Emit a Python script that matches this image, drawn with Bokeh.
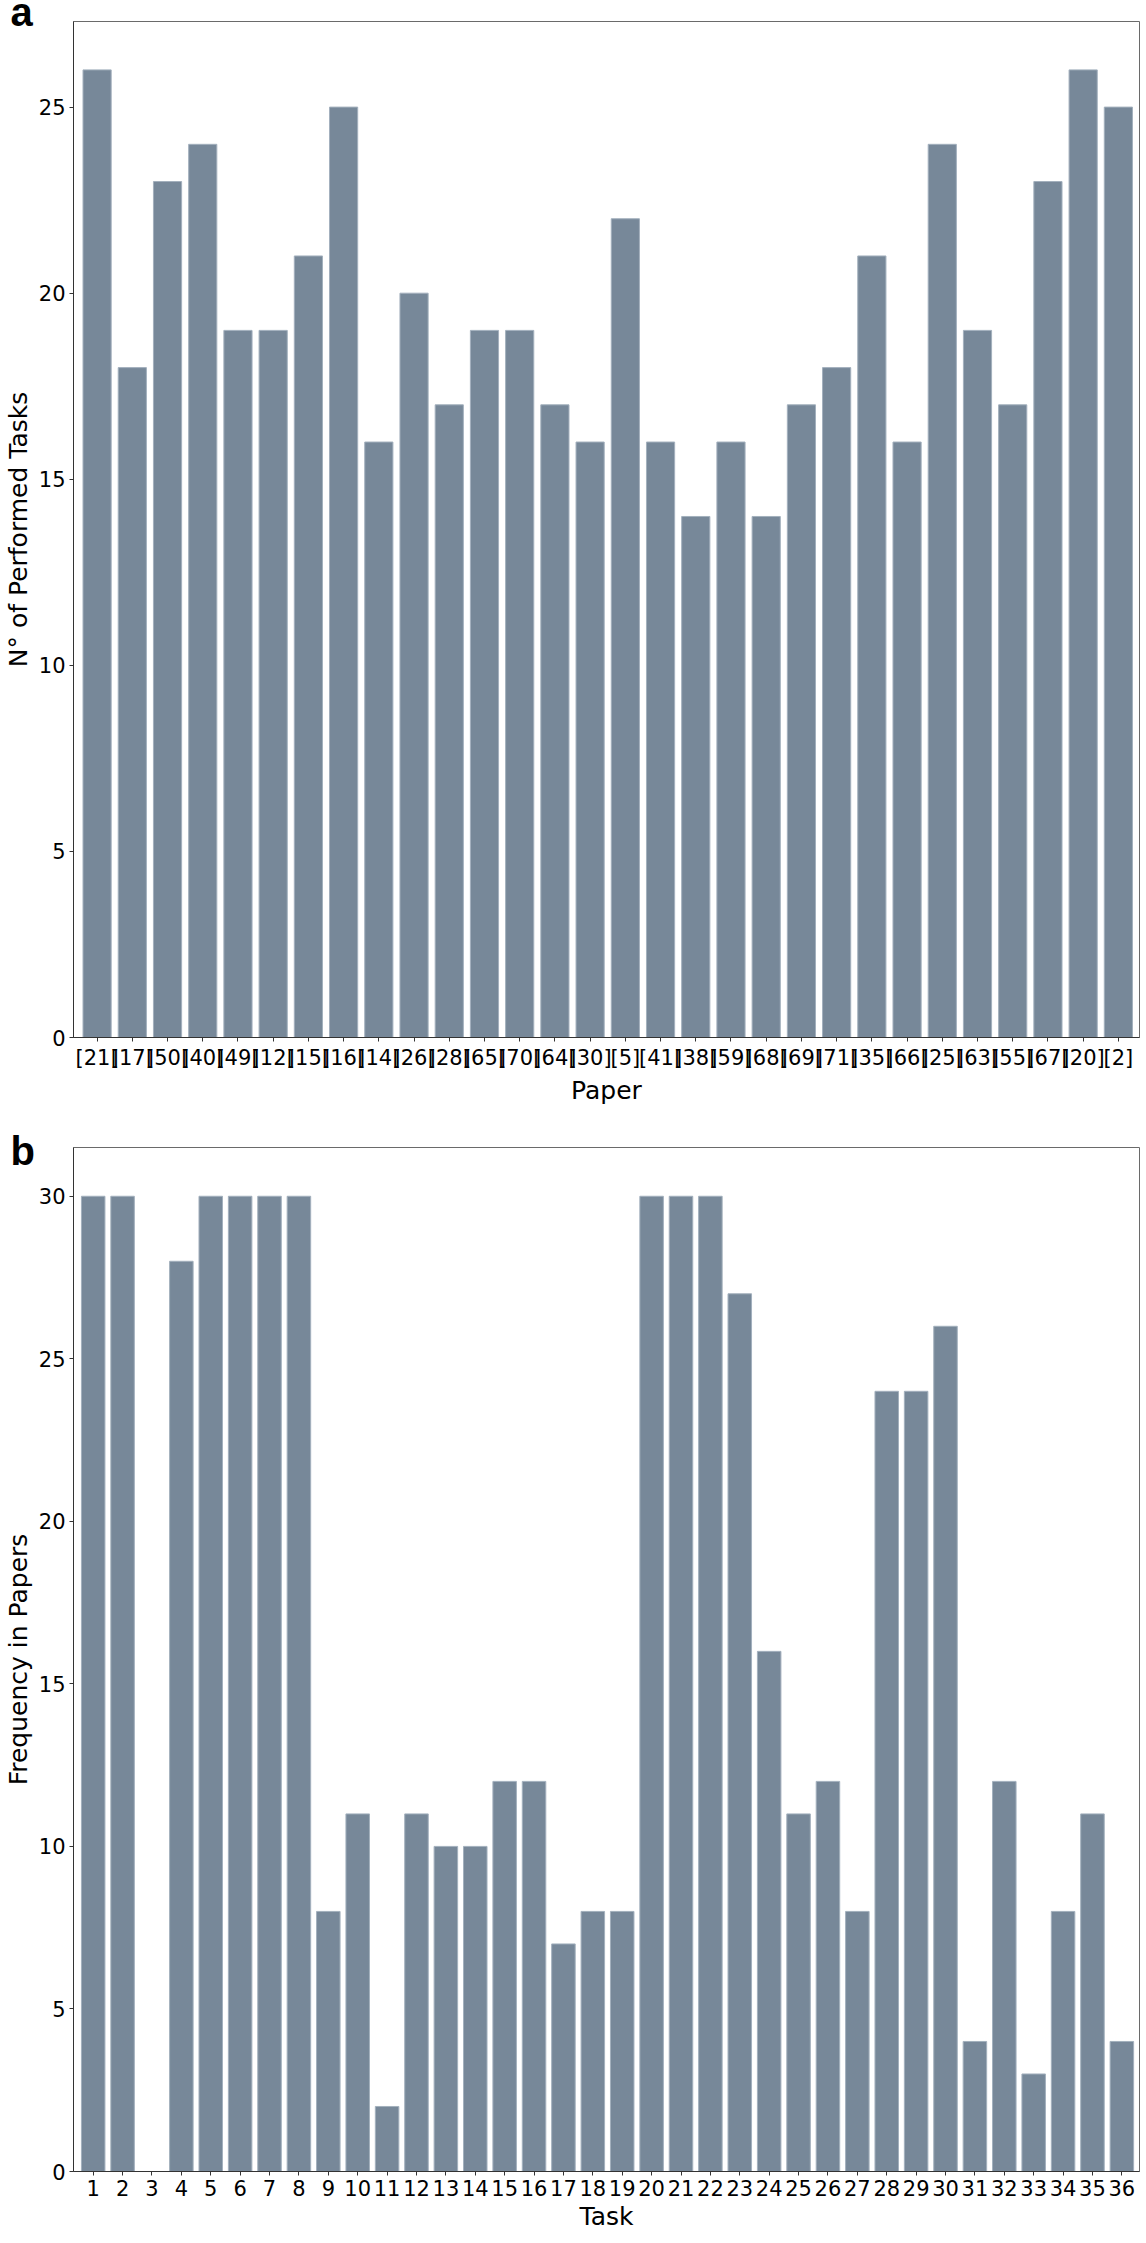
from bokeh.plotting import figure
from bokeh.layouts import column
from bokeh.models import Range1d, FixedTicker, Title
from bokeh.embed import file_html
from bokeh.resources import INLINE

# Panel a data
papers = ["[21]", "[17]", "[50]", "[40]", "[49]", "[12]", "[15]", "[16]", "[14]", "[26]",
          "[28]", "[65]", "[70]", "[64]", "[30]", "[5]", "[41]", "[38]", "[59]", "[68]",
          "[69]", "[71]", "[35]", "[66]", "[25]", "[63]", "[55]", "[67]", "[20]", "[2]"]
tasks_performed = [26, 18, 23, 24, 19, 19, 21, 25, 16, 20,
                   17, 19, 19, 17, 16, 22, 16, 14, 16, 14,
                   17, 18, 21, 16, 24, 19, 17, 23, 26, 25]
yticks_a = [0, 5, 10, 15, 20, 25]

# Panel b data
tasks = [str(i) for i in range(1, 37)]
frequency = [30, 30, 0, 28, 30, 30, 30, 30, 8, 11,
             2, 11, 10, 10, 12, 12, 7, 8, 8, 30,
             30, 30, 27, 16, 11, 12, 8, 24, 24, 26,
             4, 12, 3, 8, 11, 4]
yticks_b = [0, 5, 10, 15, 20, 25, 30]

BAR = "#778899"
EDGE = "#a3b0bd"
FONT = "DejaVu Sans"


def make_panel(cats, vals, yticks, xlabel, ylabel, letter, frame_h, top_border, letter_standoff):
    n = len(cats)
    pos = list(range(n))
    ymax = max(vals) * 1.05
    p = figure(x_range=Range1d(-0.67, n - 0.4), y_range=Range1d(0, ymax),
               frame_width=1066, frame_height=frame_h, output_backend="svg",
               toolbar_location=None, min_border_left=63, min_border_right=1,
               min_border_top=top_border, min_border_bottom=10)
    p.vbar(x=pos, top=vals, width=0.8, fill_color=BAR, line_color=EDGE, line_width=1)
    p.xgrid.visible = False
    p.ygrid.visible = False
    p.outline_line_color = "#6a6a6a"
    p.outline_line_width = 1
    p.background_fill_color = "white"
    p.border_fill_color = "white"
    p.yaxis.ticker = FixedTicker(ticks=yticks)
    p.xaxis.ticker = FixedTicker(ticks=pos)
    p.xaxis.major_label_overrides = {i: c for i, c in zip(pos, cats)}
    for ax in (p.xaxis[0], p.yaxis[0]):
        ax.axis_line_color = "#333333"
        ax.major_tick_line_color = "#333333"
        ax.major_tick_out = 4
        ax.major_tick_in = 0
        ax.minor_tick_out = 0
        ax.minor_tick_in = 0
        ax.major_label_text_font = FONT
        ax.major_label_text_font_size = "21px"
        ax.major_label_text_color = "black"
        ax.axis_label_text_font = FONT
        ax.axis_label_text_font_size = "25px"
        ax.axis_label_text_font_style = "normal"
        ax.axis_label_text_color = "black"
        ax.major_label_standoff = 4
        ax.axis_label_standoff = 3
    p.xaxis.axis_label = xlabel
    p.yaxis.axis_label = ylabel
    # panel letter as a title shifted into the left margin
    t = Title(text=letter, align="left", offset=-63, vertical_align="bottom",
              text_font="Liberation Sans", text_font_style="bold", text_font_size="40px",
              text_color="black")
    try:
        t.standoff = letter_standoff
    except ValueError:
        t.standoff = 0
    p.add_layout(t, "above")
    return p


pa = make_panel(papers, tasks_performed, yticks_a, "Paper", "N° of Performed Tasks", "a", 1016, 1, -25)
pb = make_panel(tasks, frequency, yticks_b, "Task", "Frequency in Papers", "b", 1024, 40, -50)

layout = column(pa, pb, spacing=0)
open("out.html", "w").write(file_html(layout, INLINE))
